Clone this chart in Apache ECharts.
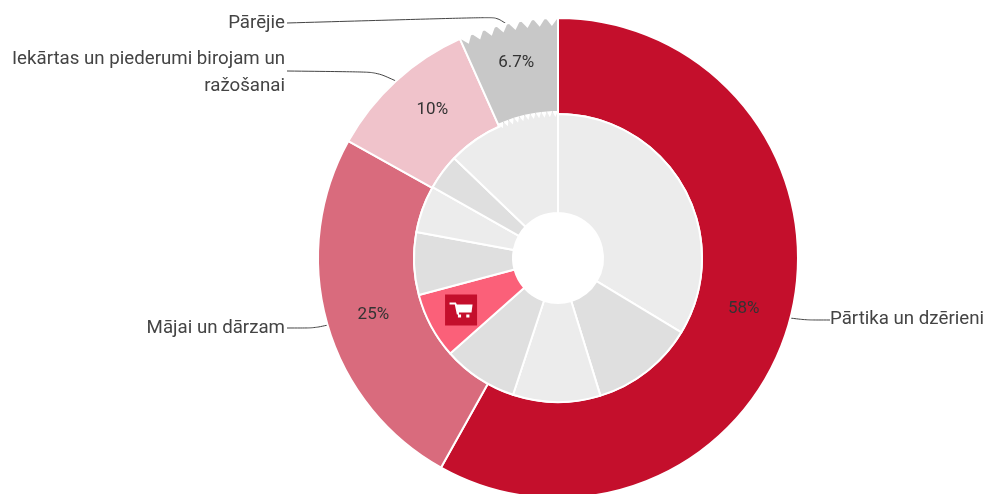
<!DOCTYPE html>
<html>
<head>
<meta charset="utf-8">
<style>
  html, body { margin: 0; padding: 0; background: #fff; }
  #chart { width: 988px; height: 494px; }
</style>
<script src="https://cdn.jsdelivr.net/npm/echarts@6/dist/echarts.min.js"></script>
</head>
<body>
<div id="chart"></div>
<script>
const groupNames = [
  'Pārtika un dzērieni',
  'Mājai un dārzam',
  'Iekārtas un piederumi birojam un\nražošanai',
  'Pārējie',
];
const groupValues = [58.1, 25, 10.2, 6.7];
const groupLabels = ['58%', '25%', '10%', '6.7%'];
const groupColors = ['#c40f2c', '#d96b7d', '#f0c3cb', '#c8c8c8'];

const detailValues = [33.6, 11.6, 9.8, 8.4, 7.4, 7, 5.3, 4, 12.8];
const detailColors = ['#ececec', '#dfdfdf', '#ececec', '#dfdfdf', '#fb6079', '#dfdfdf', '#ececec', '#dfdfdf', '#ececec'];

const labelSpots = [
  { x: 830, y: 319, align: 'left', line: [[790, 318], [806, 320], [830, 320]] },
  { x: 285, y: 328, align: 'right', line: [[328, 325], [314, 328], [287, 328]] },
  { x: 285, y: 73, align: 'right', line: [[396, 81], [376, 72], [287, 71]] },
  { x: 285, y: 23, align: 'right', line: [[508, 25], [496, 17], [287, 23]] },
];
const percentNudge = [[-3, 2], [3, 4], [6, -4], [-1, -5]];

const center = [558, 258];
const font = 'Roboto, Arial, sans-serif';

const chart = echarts.init(document.getElementById('chart'));

const total = groupValues.reduce((a, b) => a + b, 0);
const lastShare = groupValues[groupValues.length - 1] / total;
const lastStart = 360 * (1 - lastShare);

// white triangles along an arc of the "other" slice
function teeth(api, base, apex, count) {
  const step = (360 - lastStart) / count;
  const out = [];
  for (let i = 0; i < count; i++) {
    const a = lastStart + step * i;
    out.push({
      type: 'polygon',
      shape: {
        points: [
          api.coord([base, a]),
          api.coord([apex, a + step / 2]),
          api.coord([base, a + step]),
        ],
      },
      style: { fill: '#fff' },
    });
  }
  return out;
}

function renderTeeth(params, api) {
  const mid = api.coord([0, 0]);
  const toRad = (deg) => ((deg - 90) * Math.PI) / 180;
  const band = {
    type: 'sector',
    shape: {
      cx: mid[0],
      cy: mid[1],
      r: 146,
      r0: 141,
      startAngle: toRad(lastStart + 0.6),
      endAngle: toRad(359.6),
      clockwise: true,
    },
    style: { fill: '#ececec' },
  };
  return {
    type: 'group',
    children: [band].concat(teeth(api, 147, 141, 11), teeth(api, 240.5, 232, 8)),
  };
}

const selectedAngle = 360 * (detailValues.slice(0, 4).reduce((a, b) => a + b, 0) + detailValues[4] / 2)
  / detailValues.reduce((a, b) => a + b, 0);

chart.setOption({
  animation: false,
  backgroundColor: '#fff',
  textStyle: { fontFamily: font },
  polar: { center, radius: [0, 240] },
  angleAxis: { type: 'value', min: 0, max: 360, startAngle: 90, show: false },
  radiusAxis: { type: 'value', min: 0, max: 240, show: false },
  series: [
    {
      type: 'pie',
      center,
      radius: [144, 240],
      startAngle: 90,
      silent: true,
      itemStyle: { borderColor: '#fff', borderWidth: 2 },
      label: {
        position: 'inside',
        color: '#333',
        fontSize: 17,
        fontFamily: font,
        formatter: (p) => groupLabels[p.dataIndex],
      },
      labelLine: { show: false },
      labelLayout: (p) => ({
        dx: percentNudge[p.dataIndex][0],
        dy: percentNudge[p.dataIndex][1],
      }),
      data: groupValues.map((value, i) => ({
        value,
        name: groupNames[i],
        itemStyle: { color: groupColors[i] },
      })),
    },
    {
      type: 'pie',
      center,
      radius: [144, 240],
      startAngle: 90,
      silent: true,
      itemStyle: { color: 'transparent', borderWidth: 0 },
      label: {
        position: 'outside',
        color: '#444',
        fontSize: 18.7,
        lineHeight: 27,
        fontFamily: font,
        align: 'right',
        overflow: 'none',
        formatter: '{b}',
      },
      labelLine: {
        show: true,
        length: 20,
        length2: 30,
        smooth: 0.3,
        lineStyle: { color: '#444', width: 1 },
      },
      labelLayout: (p) => ({
        x: labelSpots[p.dataIndex].x,
        y: labelSpots[p.dataIndex].y,
        align: labelSpots[p.dataIndex].align,
        verticalAlign: 'middle',
        labelLinePoints: labelSpots[p.dataIndex].line,
      }),
      data: groupValues.map((value, i) => ({ value, name: groupNames[i] })),
    },
    {
      type: 'pie',
      center,
      radius: [45, 144],
      startAngle: 90,
      silent: true,
      label: { show: false },
      labelLine: { show: false },
      itemStyle: { borderColor: '#fff', borderWidth: 2 },
      data: detailValues.map((value, i) => ({
        value,
        itemStyle: { color: detailColors[i] },
      })),
    },
    {
      type: 'custom',
      coordinateSystem: 'polar',
      silent: true,
      clip: false,
      renderItem: renderTeeth,
      data: [[240, lastStart]],
      z: 3,
    },
    {
      type: 'scatter',
      coordinateSystem: 'polar',
      silent: true,
      symbol: 'rect',
      symbolSize: [32, 31],
      itemStyle: { color: '#c40f2c', opacity: 1 },
      data: [[110, selectedAngle]],
      z: 4,
    },
    {
      type: 'scatter',
      coordinateSystem: 'polar',
      silent: true,
      symbol: 'path://M0 3h6l1 2h15l-1 8H9v2h2v3H8v-3H7L5 5H0zM16 15h3v3h-3z',
      symbolSize: [23, 15],
      itemStyle: { color: '#fff', opacity: 1 },
      data: [[110, selectedAngle]],
      z: 5,
    },
  ],
});
</script>
</body>
</html>
